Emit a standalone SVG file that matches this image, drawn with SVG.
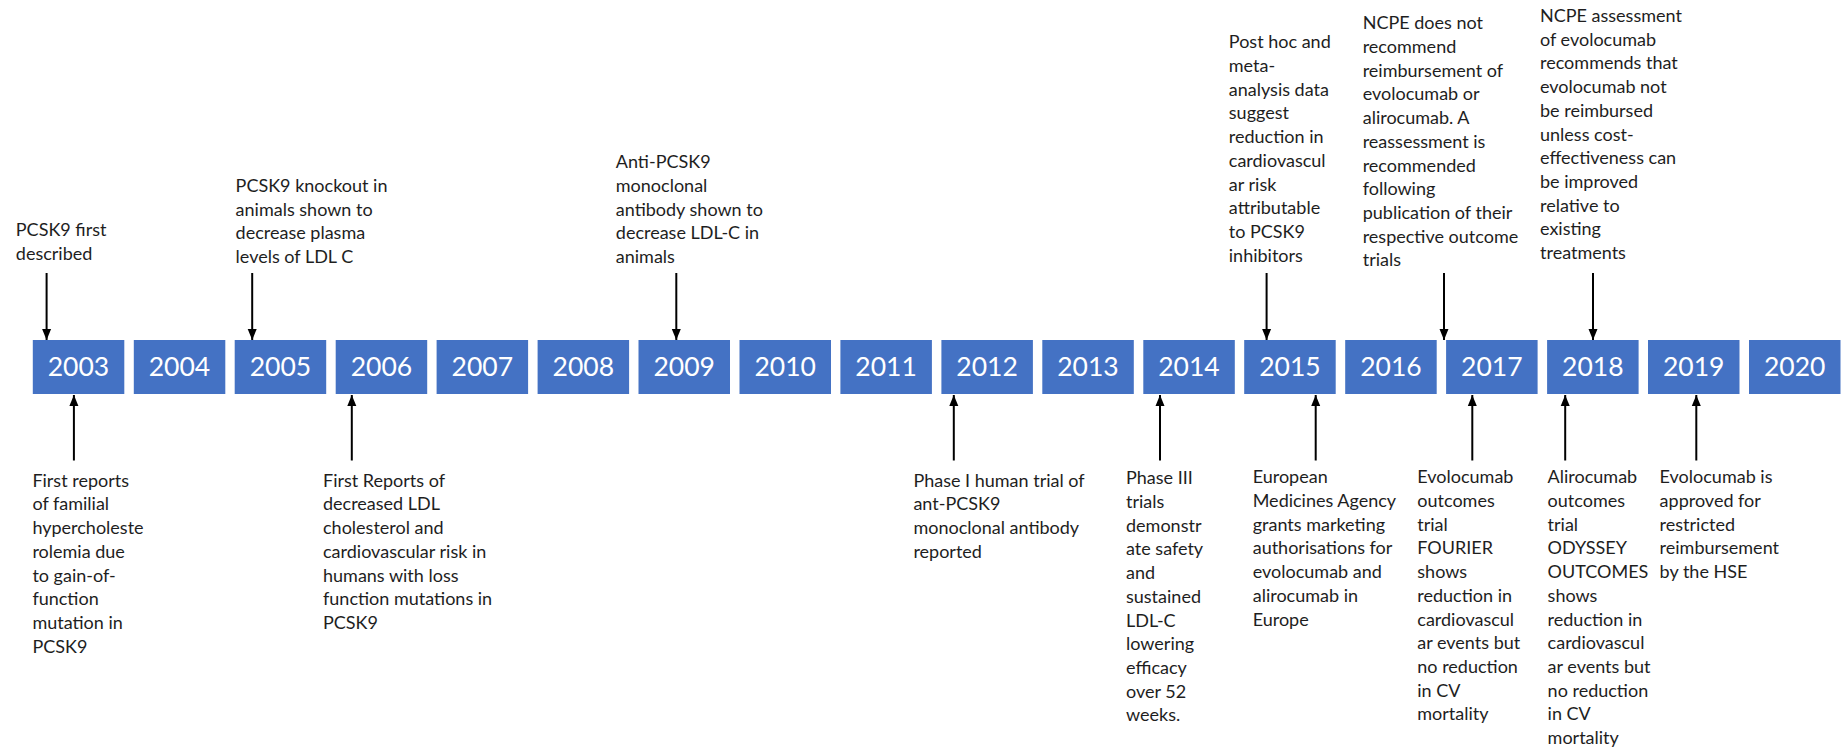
<svg xmlns="http://www.w3.org/2000/svg" width="1845" height="747" viewBox="0 0 1845 747">
<style>
.yr rect{fill:#4472C4;}
.yr text{fill:#ffffff;font-family:Lato,"Liberation Sans",sans-serif;font-size:26.5px;text-anchor:middle;}
.ev text{fill:#1e1e1e;font-family:Lato,"Liberation Sans",sans-serif;font-size:18px;}
.cn line{stroke:#000;stroke-width:2;}
</style>
<defs>
<marker id="ah" markerUnits="userSpaceOnUse" markerWidth="12" markerHeight="12" viewBox="0 0 12 12" refX="11" refY="6" orient="auto">
<path d="M0,1.5 L11,6 L0,10.5 Z" fill="#000"/>
</marker>
</defs>
<rect width="1845" height="747" fill="#fff"/>

<g id="years">
<g id="y2003" class="yr"><rect x="32.8" y="340" width="91.5" height="54"/><text x="78.5" y="376">2003</text></g>
<g id="y2004" class="yr"><rect x="133.8" y="340" width="91.5" height="54"/><text x="179.5" y="376">2004</text></g>
<g id="y2005" class="yr"><rect x="234.7" y="340" width="91.5" height="54"/><text x="280.4" y="376">2005</text></g>
<g id="y2006" class="yr"><rect x="335.7" y="340" width="91.5" height="54"/><text x="381.4" y="376">2006</text></g>
<g id="y2007" class="yr"><rect x="436.6" y="340" width="91.5" height="54"/><text x="482.3" y="376">2007</text></g>
<g id="y2008" class="yr"><rect x="537.6" y="340" width="91.5" height="54"/><text x="583.3" y="376">2008</text></g>
<g id="y2009" class="yr"><rect x="638.5" y="340" width="91.5" height="54"/><text x="684.2" y="376">2009</text></g>
<g id="y2010" class="yr"><rect x="739.5" y="340" width="91.5" height="54"/><text x="785.2" y="376">2010</text></g>
<g id="y2011" class="yr"><rect x="840.4" y="340" width="91.5" height="54"/><text x="886.1" y="376">2011</text></g>
<g id="y2012" class="yr"><rect x="941.4" y="340" width="91.5" height="54"/><text x="987.1" y="376">2012</text></g>
<g id="y2013" class="yr"><rect x="1042.3" y="340" width="91.5" height="54"/><text x="1088" y="376">2013</text></g>
<g id="y2014" class="yr"><rect x="1143.3" y="340" width="91.5" height="54"/><text x="1189" y="376">2014</text></g>
<g id="y2015" class="yr"><rect x="1244.2" y="340" width="91.5" height="54"/><text x="1289.9" y="376">2015</text></g>
<g id="y2016" class="yr"><rect x="1345.2" y="340" width="91.5" height="54"/><text x="1390.9" y="376">2016</text></g>
<g id="y2017" class="yr"><rect x="1446.1" y="340" width="91.5" height="54"/><text x="1491.8" y="376">2017</text></g>
<g id="y2018" class="yr"><rect x="1547.1" y="340" width="91.5" height="54"/><text x="1592.8" y="376">2018</text></g>
<g id="y2019" class="yr"><rect x="1648" y="340" width="91.5" height="54"/><text x="1693.7" y="376">2019</text></g>
<g id="y2020" class="yr"><rect x="1749" y="340" width="91.5" height="54"/><text x="1794.7" y="376">2020</text></g>
</g>

<g id="connectors" class="cn">
<line x1="46.6" y1="273" x2="46.6" y2="340" marker-end="url(#ah)"/>
<line x1="252.2" y1="273" x2="252.2" y2="340" marker-end="url(#ah)"/>
<line x1="676.3" y1="273" x2="676.3" y2="340" marker-end="url(#ah)"/>
<line x1="1266.6" y1="273" x2="1266.6" y2="340" marker-end="url(#ah)"/>
<line x1="1444" y1="273" x2="1444" y2="340" marker-end="url(#ah)"/>
<line x1="1593" y1="273" x2="1593" y2="340" marker-end="url(#ah)"/>
<line x1="73.9" y1="460.5" x2="73.9" y2="395" marker-end="url(#ah)"/>
<line x1="351.8" y1="460.5" x2="351.8" y2="395" marker-end="url(#ah)"/>
<line x1="953.8" y1="460.5" x2="953.8" y2="395" marker-end="url(#ah)"/>
<line x1="1160" y1="460.5" x2="1160" y2="395" marker-end="url(#ah)"/>
<line x1="1315.7" y1="460.5" x2="1315.7" y2="395" marker-end="url(#ah)"/>
<line x1="1472.3" y1="460.5" x2="1472.3" y2="395" marker-end="url(#ah)"/>
<line x1="1565.2" y1="460.5" x2="1565.2" y2="395" marker-end="url(#ah)"/>
<line x1="1696.3" y1="460.5" x2="1696.3" y2="395" marker-end="url(#ah)"/>
</g>

<g id="ev-2003-top" class="ev"><text x="15.8" y="236"><tspan x="15.8">PCSK9 first</tspan><tspan x="15.8" dy="23.7">described</tspan></text></g>

<g id="ev-2005-top" class="ev"><text x="235.6" y="192"><tspan x="235.6">PCSK9 knockout  in</tspan><tspan x="235.6" dy="23.7">animals shown to</tspan><tspan x="235.6" dy="23.7">decrease plasma</tspan><tspan x="235.6" dy="23.7">levels of LDL C</tspan></text></g>

<g id="ev-2009-top" class="ev"><text x="615.8" y="168.3"><tspan x="615.8">Anti-PCSK9</tspan><tspan x="615.8" dy="23.7">monoclonal</tspan><tspan x="615.8" dy="23.7">antibody shown to</tspan><tspan x="615.8" dy="23.7">decrease LDL-C in</tspan><tspan x="615.8" dy="23.7">animals</tspan></text></g>

<g id="ev-2015-top" class="ev"><text x="1228.8" y="48.3"><tspan x="1228.8">Post hoc and</tspan><tspan x="1228.8" dy="23.7">meta-</tspan><tspan x="1228.8" dy="23.7">analysis data</tspan><tspan x="1228.8" dy="23.7">suggest</tspan><tspan x="1228.8" dy="23.7">reduction in</tspan><tspan x="1228.8" dy="23.7">cardiovascul</tspan><tspan x="1228.8" dy="23.7">ar risk</tspan><tspan x="1228.8" dy="23.7">attributable</tspan><tspan x="1228.8" dy="23.7">to PCSK9</tspan><tspan x="1228.8" dy="23.7">inhibitors</tspan></text></g>

<g id="ev-2017-top" class="ev"><text x="1362.7" y="29.3"><tspan x="1362.7">NCPE does not</tspan><tspan x="1362.7" dy="23.7">recommend</tspan><tspan x="1362.7" dy="23.7">reimbursement  of</tspan><tspan x="1362.7" dy="23.7">evolocumab or</tspan><tspan x="1362.7" dy="23.7">alirocumab. A</tspan><tspan x="1362.7" dy="23.7">reassessment is</tspan><tspan x="1362.7" dy="23.7">recommended</tspan><tspan x="1362.7" dy="23.7">following</tspan><tspan x="1362.7" dy="23.7">publication of their</tspan><tspan x="1362.7" dy="23.7">respective outcome</tspan><tspan x="1362.7" dy="23.7">trials</tspan></text></g>

<g id="ev-2018-top" class="ev"><text x="1540" y="22"><tspan x="1540">NCPE assessment</tspan><tspan x="1540" dy="23.7">of evolocumab</tspan><tspan x="1540" dy="23.7">recommends  that</tspan><tspan x="1540" dy="23.7">evolocumab not</tspan><tspan x="1540" dy="23.7">be reimbursed</tspan><tspan x="1540" dy="23.7">unless cost-</tspan><tspan x="1540" dy="23.7">effectiveness can</tspan><tspan x="1540" dy="23.7">be improved</tspan><tspan x="1540" dy="23.7">relative to</tspan><tspan x="1540" dy="23.7">existing</tspan><tspan x="1540" dy="23.7">treatments</tspan></text></g>

<g id="ev-2003-bottom" class="ev"><text x="32.4" y="486.7"><tspan x="32.4">First reports</tspan><tspan x="32.4" dy="23.7">of familial</tspan><tspan x="32.4" dy="23.7">hypercholeste</tspan><tspan x="32.4" dy="23.7">rolemia due</tspan><tspan x="32.4" dy="23.7">to gain-of-</tspan><tspan x="32.4" dy="23.7">function</tspan><tspan x="32.4" dy="23.7">mutation  in</tspan><tspan x="32.4" dy="23.7">PCSK9</tspan></text></g>

<g id="ev-2006-bottom" class="ev"><text x="323" y="486.7"><tspan x="323">First Reports of</tspan><tspan x="323" dy="23.7">decreased LDL</tspan><tspan x="323" dy="23.7">cholesterol and</tspan><tspan x="323" dy="23.7">cardiovascular risk in</tspan><tspan x="323" dy="23.7">humans with  loss</tspan><tspan x="323" dy="23.7">function mutations in</tspan><tspan x="323" dy="23.7">PCSK9</tspan></text></g>

<g id="ev-2012-bottom" class="ev"><text x="913.4" y="486.7"><tspan x="913.4">Phase I human trial of</tspan><tspan x="913.4" dy="23.7">ant-PCSK9</tspan><tspan x="913.4" dy="23.7">monoclonal antibody</tspan><tspan x="913.4" dy="23.7">reported</tspan></text></g>

<g id="ev-2014-bottom" class="ev"><text x="1126" y="484.3"><tspan x="1126">Phase III</tspan><tspan x="1126" dy="23.7">trials</tspan><tspan x="1126" dy="23.7">demonstr</tspan><tspan x="1126" dy="23.7">ate safety</tspan><tspan x="1126" dy="23.7">and</tspan><tspan x="1126" dy="23.7">sustained</tspan><tspan x="1126" dy="23.7">LDL-C</tspan><tspan x="1126" dy="23.7">lowering</tspan><tspan x="1126" dy="23.7">efficacy</tspan><tspan x="1126" dy="23.7">over 52</tspan><tspan x="1126" dy="23.7">weeks.</tspan></text></g>

<g id="ev-2015-bottom" class="ev"><text x="1252.7" y="483.3"><tspan x="1252.7">European</tspan><tspan x="1252.7" dy="23.7">Medicines Agency</tspan><tspan x="1252.7" dy="23.7">grants marketing</tspan><tspan x="1252.7" dy="23.7">authorisations for</tspan><tspan x="1252.7" dy="23.7">evolocumab and</tspan><tspan x="1252.7" dy="23.7">alirocumab in</tspan><tspan x="1252.7" dy="23.7">Europe</tspan></text></g>

<g id="ev-2017-bottom" class="ev"><text x="1417.3" y="483.3"><tspan x="1417.3">Evolocumab</tspan><tspan x="1417.3" dy="23.7">outcomes</tspan><tspan x="1417.3" dy="23.7">trial</tspan><tspan x="1417.3" dy="23.7">FOURIER</tspan><tspan x="1417.3" dy="23.7">shows</tspan><tspan x="1417.3" dy="23.7">reduction in</tspan><tspan x="1417.3" dy="23.7">cardiovascul</tspan><tspan x="1417.3" dy="23.7">ar events but</tspan><tspan x="1417.3" dy="23.7">no reduction</tspan><tspan x="1417.3" dy="23.7">in CV</tspan><tspan x="1417.3" dy="23.7">mortality</tspan></text></g>

<g id="ev-2018-bottom" class="ev"><text x="1547.6" y="483.3"><tspan x="1547.6">Alirocumab</tspan><tspan x="1547.6" dy="23.7">outcomes</tspan><tspan x="1547.6" dy="23.7">trial</tspan><tspan x="1547.6" dy="23.7">ODYSSEY</tspan><tspan x="1547.6" dy="23.7">OUTCOMES</tspan><tspan x="1547.6" dy="23.7">shows</tspan><tspan x="1547.6" dy="23.7">reduction in</tspan><tspan x="1547.6" dy="23.7">cardiovascul</tspan><tspan x="1547.6" dy="23.7">ar events but</tspan><tspan x="1547.6" dy="23.7">no reduction</tspan><tspan x="1547.6" dy="23.7">in CV</tspan><tspan x="1547.6" dy="23.7">mortality</tspan></text></g>

<g id="ev-2019-bottom" class="ev"><text x="1659.6" y="483.3"><tspan x="1659.6">Evolocumab is</tspan><tspan x="1659.6" dy="23.7">approved for</tspan><tspan x="1659.6" dy="23.7">restricted</tspan><tspan x="1659.6" dy="23.7">reimbursement</tspan><tspan x="1659.6" dy="23.7">by the HSE</tspan></text></g>
</svg>
